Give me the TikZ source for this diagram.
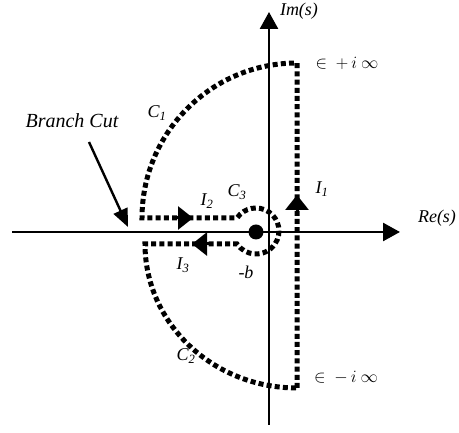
\documentclass[tikz,border=0pt]{standalone}
\usepackage{fontspec}
\setmainfont{Liberation Serif}
\usetikzlibrary{arrows.meta}

\begin{document}
\begin{tikzpicture}[
    x = 1pt, y = 1pt,
    every node/.style = {font = \fontsize{18}{20}\selectfont\itshape, inner sep = 0pt},
    axis/.style       = {line width = 2.6pt, -{Triangle[length=17pt, width=18pt]}},
    contour/.style    = {line width = 5pt, dash pattern = on 5pt off 3.2pt},
    tipmark/.style    = {line width = 3pt, -{Triangle[length=15pt, width=23pt]}},
    cutarr/.style     = {line width = 2.4pt, -{Triangle[length=18pt, width=15pt]}},
    infty/.style      = {font = \fontsize{16}{18}\selectfont},
]
\useasboundingbox (0,0) rectangle (459,433);

% ---------- points of the plane ----------
\coordinate (west)  at ( 12, 201);
\coordinate (east)  at (400, 201);
\coordinate (south) at (269,   8);
\coordinate (north) at (269, 421);
\coordinate (pole)  at (256, 201);

\coordinate (lowcorner) at (297,  45);
\coordinate (topcorner) at (297, 370);

% ---------- axes ----------
\draw[axis] (west) -- (east);
\draw[axis] (south) -- (north);

% ---------- Bromwich contour with keyhole round -b ----------
\draw[contour] (lowcorner) -- (topcorner)
    arc[start angle = 90, end angle = 180, radius = 155] -- (237, 215)
    arc[start angle = 145.6, end angle = -145.6, radius = 23] -- (145, 189)
    arc[start angle = 180, end angle = 270, x radius = 152, y radius = 144] -- cycle;

\fill (pole) circle (7.5);

% ---------- direction marks ----------
\coordinate (i2from) at (173, 215);  \coordinate (i2to) at (193, 215);
\coordinate (i3from) at (212, 189);  \coordinate (i3to) at (192, 189);
\coordinate (i1from) at (297, 218);  \coordinate (i1to) at (297, 238);
\draw[tipmark] (i2from) -- (i2to);
\draw[tipmark] (i3from) -- (i3to);
\draw[tipmark] (i1from) -- (i1to);

% ---------- labels ----------
\node (imlabel)  at (299, 422) {Im(s)};
\node (relabel)  at (437, 215) {Re(s)};
\node[infty] (upinf)  at (347, 370) {$\in\ {+}\,i\ \infty$};
\node[infty] (lowinf) at (346,  55) {$\in\ {-}\,i\ \infty$};

\node[font = \fontsize{20}{22}\selectfont\itshape] (cut) at (72, 312) {Branch Cut};
\coordinate (cuttip) at (128, 206);
\draw[cutarr] (89, 291) -- (cuttip);

\node (c1) at (157, 320) {C\textsubscript{1}};
\node (c2) at (186,  77) {C\textsubscript{2}};
\node (c3) at (237, 241) {C\textsubscript{3}};
\node (i1) at (322, 244) {I\textsubscript{1}};
\node (i2) at (207, 232) {I\textsubscript{2}};
\node (i3) at (183, 168) {I\textsubscript{3}};
\node (mb) at (246, 161) {-b};

\end{tikzpicture}
\end{document}
